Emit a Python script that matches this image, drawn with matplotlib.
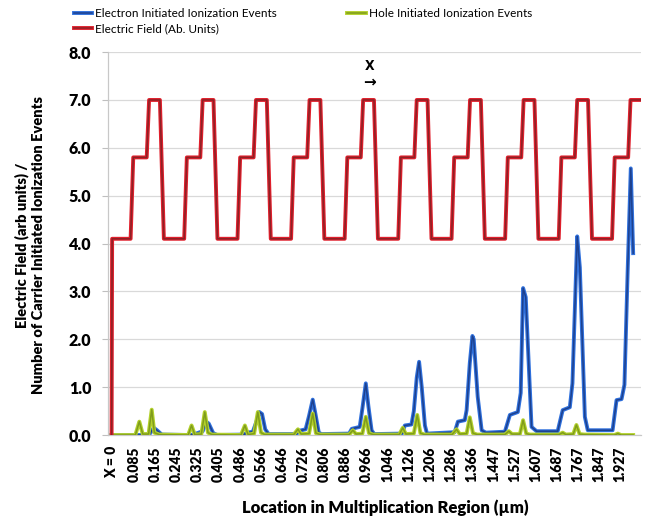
import matplotlib
matplotlib.use("Agg")
import matplotlib.pyplot as plt
import matplotlib.patheffects as pe

plt.rcParams['font.family'] = ['Lato', 'DejaVu Sans']

# tick labels of the category axis (µm)
tick_vals = [0, 0.085, 0.165, 0.245, 0.325, 0.405, 0.486, 0.566, 0.646, 0.726,
             0.806, 0.886, 0.966, 1.046, 1.126, 1.206, 1.286, 1.366, 1.447,
             1.527, 1.607, 1.687, 1.767, 1.847, 1.927]
tick_labels = ['X = 0'] + ['%.3f' % v for v in tick_vals[1:]]

# electric field (arb. units), corner points
field_x = [0.0, 0.002,
           0.072, 0.082, 0.133, 0.142, 0.183, 0.198,
           0.275, 0.285, 0.336, 0.345, 0.386, 0.401,
           0.477, 0.487, 0.538, 0.547, 0.588, 0.603,
           0.680, 0.690, 0.741, 0.750, 0.791, 0.806,
           0.883, 0.893, 0.944, 0.953, 0.994, 1.009,
           1.086, 1.096, 1.147, 1.156, 1.197, 1.212,
           1.288, 1.298, 1.349, 1.358, 1.399, 1.414,
           1.491, 1.501, 1.552, 1.561, 1.602, 1.617,
           1.694, 1.704, 1.755, 1.764, 1.805, 1.820,
           1.896, 1.906, 1.957, 1.966, 2.005]
field_y = [0.0, 4.1] + [4.1, 5.8, 5.8, 7.0, 7.0, 4.1] * 9 + [4.1, 5.8, 5.8, 7.0, 7.0]

# electron initiated ionization events
elec_x = [0.0, 0.12, 0.145, 0.16, 0.172, 0.19,
          0.30, 0.32, 0.345, 0.358, 0.368, 0.385, 0.40,
          0.50, 0.515, 0.535, 0.55, 0.56, 0.57, 0.582, 0.595,
          0.70, 0.712, 0.735, 0.748, 0.762, 0.772, 0.785, 0.795,
          0.90, 0.91, 0.94, 0.95, 0.963, 0.973, 0.985, 0.995,
          1.10, 1.111, 1.136, 1.145, 1.156, 1.165, 1.175, 1.187, 1.195,
          1.30, 1.312, 1.338, 1.345, 1.357, 1.367, 1.372, 1.387, 1.402, 1.418,
          1.490, 1.509, 1.539, 1.550, 1.559, 1.569, 1.591, 1.610,
          1.690, 1.709, 1.736, 1.746, 1.764, 1.774, 1.793, 1.804,
          1.898, 1.913, 1.932, 1.943, 1.955, 1.967, 1.976]
elec_y = [0.0, 0.0, 0.03, 0.15, 0.10, 0.01,
          0.0, 0.03, 0.08, 0.28, 0.24, 0.04, 0.0,
          0.01, 0.05, 0.07, 0.30, 0.48, 0.44, 0.12, 0.02,
          0.02, 0.09, 0.12, 0.40, 0.74, 0.45, 0.05, 0.02,
          0.03, 0.13, 0.17, 0.55, 1.08, 0.60, 0.10, 0.02,
          0.03, 0.20, 0.22, 0.50, 1.20, 1.53, 1.00, 0.20, 0.03,
          0.06, 0.28, 0.31, 0.52, 1.50, 2.07, 2.00, 0.80, 0.10, 0.05,
          0.07, 0.42, 0.48, 0.88, 3.07, 2.88, 0.17, 0.08,
          0.08, 0.52, 0.58, 1.08, 4.15, 3.50, 0.38, 0.10,
          0.10, 0.73, 0.75, 1.05, 3.40, 5.57, 3.80]

# hole initiated ionization events
hole_x = [0.0, 0.09, 0.105, 0.118, 0.14, 0.152, 0.162, 0.18,
          0.29, 0.303, 0.315, 0.34, 0.353, 0.365, 0.38,
          0.49, 0.505, 0.517, 0.54, 0.554, 0.566, 0.58,
          0.69, 0.706, 0.718, 0.748, 0.762, 0.774, 0.79,
          0.90, 0.914, 0.926, 0.95, 0.963, 0.975, 0.99,
          1.09, 1.103, 1.115, 1.145, 1.158, 1.17, 1.185,
          1.29, 1.307, 1.319, 1.345, 1.357, 1.369, 1.385,
          1.49, 1.505, 1.517, 1.547, 1.559, 1.571, 1.585,
          1.695, 1.709, 1.721, 1.749, 1.761, 1.773, 1.79,
          1.905, 1.918, 1.93, 1.976]
hole_y = [0.0, 0.0, 0.28, 0.02, 0.02, 0.53, 0.05, 0.01,
          0.0, 0.20, 0.01, 0.02, 0.48, 0.05, 0.01,
          0.0, 0.20, 0.01, 0.03, 0.48, 0.05, 0.01,
          0.01, 0.12, 0.02, 0.03, 0.45, 0.04, 0.01,
          0.01, 0.10, 0.02, 0.03, 0.38, 0.04, 0.01,
          0.01, 0.15, 0.02, 0.03, 0.42, 0.04, 0.01,
          0.01, 0.12, 0.02, 0.03, 0.37, 0.04, 0.01,
          0.01, 0.08, 0.02, 0.02, 0.31, 0.03, 0.01,
          0.01, 0.05, 0.01, 0.02, 0.21, 0.02, 0.01,
          0.0, 0.03, 0.0, 0.0]

fig = plt.figure(figsize=(6.62, 5.21), dpi=100)
ax = fig.add_axes([0.163, 0.165, 0.805, 0.735])


def fx(bright):
    return [pe.Stroke(linewidth=2.8, foreground=bright), pe.Normal()]


l1, = ax.plot(elec_x, elec_y, color='#1d418f', lw=1.1,
              path_effects=fx('#2f70dc'), label='Electron Initiated Ionization Events', zorder=3)
l2, = ax.plot(hole_x, hole_y, color='#7f9c1c', lw=1.1,
              path_effects=fx('#b3d12c'), label='Hole Initiated Ionization Events', zorder=4)
l3, = ax.plot(field_x, field_y, color='#8c2226', lw=1.1,
              path_effects=fx('#e01f2c'), label='Electric Field (Ab. Units)', zorder=5)

ax.set_xlim(-0.014, 2.005)
ax.set_ylim(0, 8)
ax.set_yticks(range(9))
ax.set_yticklabels(['%.1f' % v for v in range(9)], fontsize=11.5, fontweight='heavy')
ax.set_xticks(tick_vals)
ax.set_xticklabels(tick_labels, rotation=90, fontsize=10, fontweight='heavy')
ax.tick_params(axis='x', length=0, pad=8)
ax.tick_params(axis='y', length=4, width=0.8, color='#bfbfbf', pad=8)
ax.grid(axis='y', color='#d9d9d9', lw=0.9)
ax.set_axisbelow(True)
for s in ['top', 'right']:
    ax.spines[s].set_visible(False)
for s in ['left', 'bottom']:
    ax.spines[s].set_color('#c8c8c8')
    ax.spines[s].set_linewidth(0.9)

ax.text(0.978, 7.72, 'X', ha='center', va='center', fontsize=10, fontweight='bold',
        family=['DejaVu Sans'], fontstretch='condensed')
ax.text(0.978, 7.37, '\u2192', ha='center', va='center', fontsize=11, fontweight='bold',
        family=['DejaVu Sans'])

fig.text(0.045, 0.53, 'Electric Field (arb units) /\nNumber of Carrier Initiated Ionization Events',
         rotation=90, ha='center', va='center', fontsize=10.5, fontweight='heavy',
         linespacing=1.25)
fig.text(0.582, 0.025, 'Location in Multiplication Region (\u00b5m)', ha='center', va='center',
         fontsize=12, fontweight='heavy')

fig.legend([l1, l3, l2], [l1.get_label(), l3.get_label(), l2.get_label()],
           loc='upper left', bbox_to_anchor=(0.095, 1.005), ncol=2, frameon=False,
           fontsize=8.5, handlelength=1.6, handletextpad=0.2, columnspacing=6.0,
           labelspacing=0.35)

fig.savefig('out.png', dpi=100)
